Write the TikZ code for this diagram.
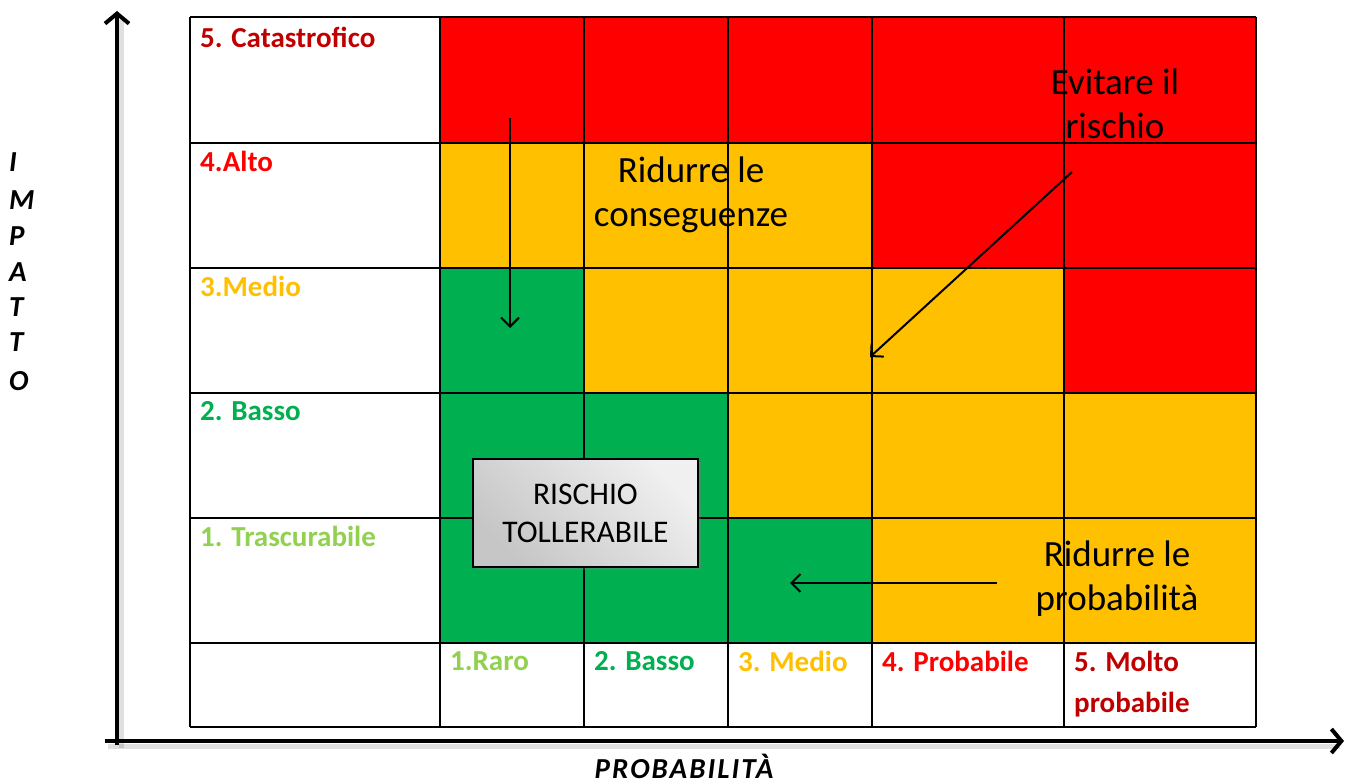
\documentclass[tikz,border=0pt]{standalone}
\usepackage{fontspec}
\setmainfont{Carlito}
\usetikzlibrary{arrows.meta,shadows}
\definecolor{cRed}{HTML}{FF0000}
\definecolor{cOrange}{HTML}{FFC000}
\definecolor{cGreen}{HTML}{00B050}
\definecolor{cLight}{HTML}{92D050}
\definecolor{cDark}{HTML}{C00000}
\begin{document}
\begin{tikzpicture}[x=1pt,y=-1pt,
  gridline/.style={line width=2pt, black},
  lab/.style={anchor=north west, align=left, font=\fontsize{29}{41}\selectfont\bfseries, inner sep=0pt},
  big/.style={align=center, font=\fontsize{37}{44}\selectfont, inner sep=0pt},
  axisline/.style={line width=4pt, -{Straight Barb[length=10pt,width=24pt]}},
  axisshadow/.style={line width=5pt, black, opacity=0.12},
  thinarrow/.style={line width=2pt, -{Straight Barb[length=9pt,width=18pt]}},
  axlab/.style={font=\fontsize{29}{36}\selectfont\bfseries\itshape, inner sep=0pt}]
\useasboundingbox (0,0) rectangle (1345,783);
\fill[white] (0,0) rectangle (1345,783);
\def\colx{{190,440,584,728,872,1064,1256}}
\def\rowy{{17,143,268,393,518,643,727}}
% cells
\foreach \r/\rowcols in {0/{cRed,cRed,cRed,cRed,cRed},
                         1/{cOrange,cOrange,cOrange,cRed,cRed},
                         2/{cGreen,cOrange,cOrange,cOrange,cRed},
                         3/{cGreen,cGreen,cOrange,cOrange,cOrange},
                         4/{cGreen,cGreen,cGreen,cOrange,cOrange}}{
  \foreach \c [count=\i] in \rowcols {
    \pgfmathsetmacro\xa{\colx[\i]}
    \pgfmathsetmacro\xb{\colx[\i+1]}
    \pgfmathsetmacro\ya{\rowy[\r]}
    \pgfmathsetmacro\yb{\rowy[\r+1]}
    \fill[\c] (\xa,\ya) rectangle (\xb,\yb);
  }
}
% grid
\foreach \x in {190,440,584,728,872,1064,1256} \draw[gridline] (\x,17) -- (\x,727);
\foreach \y in {17,143,268,393,518,643,727} \draw[gridline] (190,\y) -- (1256,\y);
% axes
\draw[axisshadow] (121,748) -- (121,20);
\draw[axisshadow] (108,746) -- (1340,746);
\coordinate (yB) at (117,745);
\coordinate (yT) at (117,11);
\coordinate (xL) at (105,741);
\coordinate (xR) at (1344,741);
\draw[axisline] (yB) -- (yT);
\draw[axisline] (xL) -- (xR);
% row labels
\node[lab, text=cDark]   (r5) at (200,27)  {5. Catastrofico};
\node[lab, text=cRed]    (r4) at (200,151) {4.Alto};
\node[lab, text=cOrange] (r3) at (200,276) {3.Medio};
\node[lab, text=cGreen]  (r2) at (200,401) {2. Basso};
\node[lab, text=cLight]  (r1) at (200,526) {1. Trascurabile};
% column labels
\node[lab, text=cLight]  (c1) at (450,651)  {1.Raro};
\node[lab, text=cGreen]  (c2) at (594,651)  {2. Basso};
\node[lab, text=cOrange] (c3) at (738,651)  {3. Medio};
\node[lab, text=cRed]    (c4) at (882,651)  {4. Probabile};
\node[lab, text=cDark]   (c5) at (1074,651) {5. Molto\\probabile};
% axis titles
\foreach \l/\yy [count=\k] in {I/162,M/200,P/236,A/272,T/307,T/342,O/381}
  \node[axlab, anchor=west] (imp\k) at (9,\yy) {\l};
\node[axlab, anchor=base] (prob) at (684,778) {\addfontfeature{LetterSpace=7}PROBABILITÀ};
% action texts
\node[big] (tCons) at (691,195) {Ridurre le\\conseguenze};
\node[big] (tEvit) at (1115,104) {Evitare il\\rischio};
\node[big] (tProb) at (1117,579) {Ridurre le\\probabilità};
% tolerable box
\node[draw=black, line width=2pt, minimum width=225pt, minimum height=108pt,
      left color=gray!45, right color=gray!12, shading angle=135,
      drop shadow={opacity=0.35, shadow xshift=3pt, shadow yshift=-3pt},
      align=center, font=\fontsize{31.5}{38}\selectfont, inner sep=0pt]
      (toll) at (585.5,513) {RISCHIO\\TOLLERABILE};
% arrows
\coordinate (a1s) at (510,118);
\coordinate (a1e) at (510,328);
\coordinate (a2s) at (1072,172);
\coordinate (a2e) at (870,357);
\coordinate (a3s) at (997,583);
\coordinate (a3e) at (790,583);
\draw[thinarrow] (a1s) -- (a1e);
\draw[thinarrow] (a2s) -- (a2e);
\draw[thinarrow] (a3s) -- (a3e);
\end{tikzpicture}
\end{document}
